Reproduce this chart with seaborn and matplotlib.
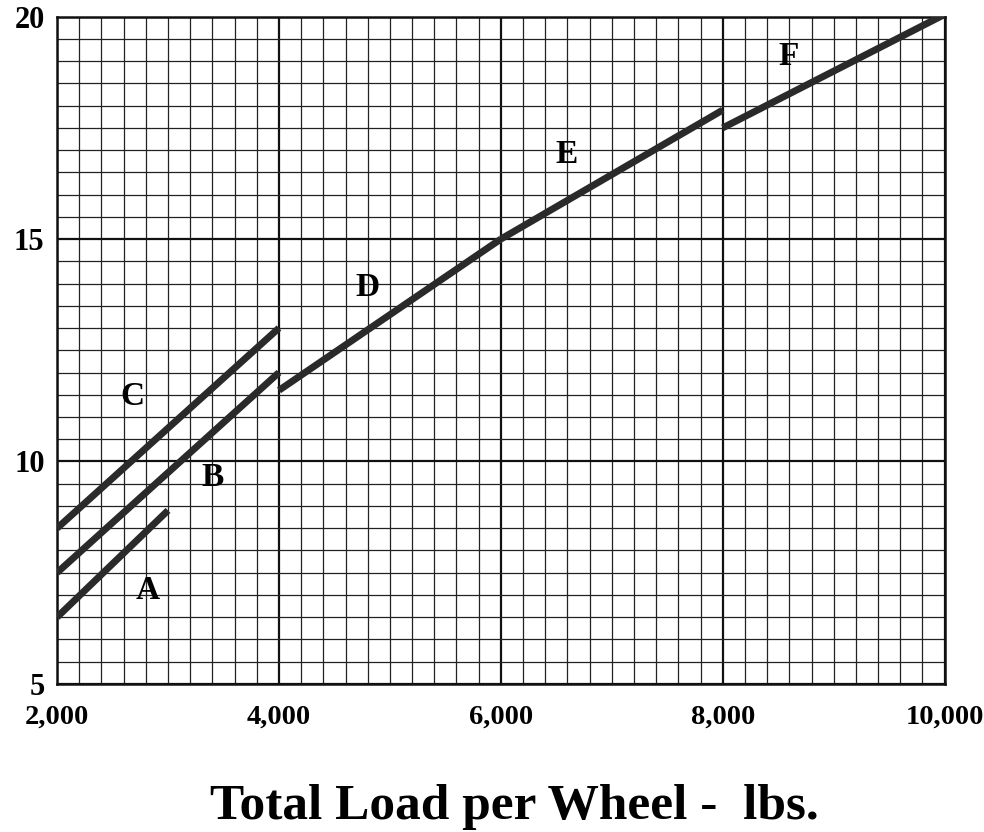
import pandas as pd
import matplotlib
matplotlib.use("Agg")
import matplotlib.pyplot as plt
from matplotlib.ticker import MultipleLocator, FuncFormatter
import seaborn as sns

# curve values (load in lbs, value)
a_load = [2000, 3000]
a_val = [6.5, 8.9]
b_load = [2000, 4000]
b_val = [7.5, 12.0]
c_load = [2000, 4000]
c_val = [8.5, 13.0]
d_load = [4000, 6000]
d_val = [11.6, 15.0]
e_load = [6000, 8000]
e_val = [15.0, 17.9]
f_load = [8000, 10000]
f_val = [17.5, 20.05]

curve_names = ['A', 'B', 'C', 'D', 'E', 'F']
label_x = [2820, 3400, 2680, 4800, 6590, 8590]
label_y = [7.1, 9.65, 11.45, 13.9, 16.9, 19.1]

x_ticks = [2000, 4000, 6000, 8000, 10000]
y_ticks = [5, 10, 15, 20]

rows = []
for name, xs, ys in zip(curve_names,
                        [a_load, b_load, c_load, d_load, e_load, f_load],
                        [a_val, b_val, c_val, d_val, e_val, f_val]):
    for x, y in zip(xs, ys):
        rows.append({'load': x, 'value': y, 'curve': name})
df = pd.DataFrame(rows)

sns.set_style("white")
plt.rcParams['font.family'] = ['Liberation Serif', 'DejaVu Serif']
plt.rcParams['font.weight'] = 'bold'
plt.rcParams['text.color'] = 'black'
plt.rcParams['xtick.color'] = 'black'
plt.rcParams['ytick.color'] = 'black'
plt.rcParams['axes.labelcolor'] = 'black'

fig = plt.figure(figsize=(9.84, 8.32), dpi=100)
ax = fig.add_axes([0.058, 0.178, 0.902, 0.802])

sns.lineplot(data=df, x='load', y='value', units='curve', estimator=None,
             color='#2a2a2a', linewidth=5, solid_capstyle='butt', ax=ax,
             zorder=5)

ax.set_xlim(2000, 10000)
ax.set_ylim(5, 20)
ax.xaxis.set_minor_locator(MultipleLocator(200))
ax.yaxis.set_minor_locator(MultipleLocator(0.5))
ax.set_xticks(x_ticks)
ax.set_yticks(y_ticks)
ax.xaxis.set_major_formatter(FuncFormatter(lambda v, p: f"{int(v):,}"))

ax.grid(which='major', color='#111111', linewidth=1.6)
ax.grid(which='minor', color='#222222', linewidth=0.9)
for s in ax.spines.values():
    s.set_color('#111111')
    s.set_linewidth(1.8)

ax.tick_params(which='both', length=0)
ax.tick_params(axis='x', pad=15, labelsize=20.5)
ax.tick_params(axis='y', pad=9, labelsize=22)
for lab in ax.get_xticklabels() + ax.get_yticklabels():
    lab.set_fontweight('bold')

# the last label sits a little inside the right edge, like the scan
fig.canvas.draw()
last = ax.get_xticklabels()[-1]
last.set_x(9935)

for name, lx, ly in zip(curve_names, label_x, label_y):
    ax.text(lx, ly, name, fontsize=24, fontweight='bold', ha='center',
            va='center', color='black', zorder=6)

ax.set_ylabel('')
ax.set_xlabel('Total Load per Wheel -  lbs.', fontsize=37, fontweight='bold')
ax.xaxis.set_label_coords(0.515, -0.15)

fig.savefig('out.png', dpi=100)
